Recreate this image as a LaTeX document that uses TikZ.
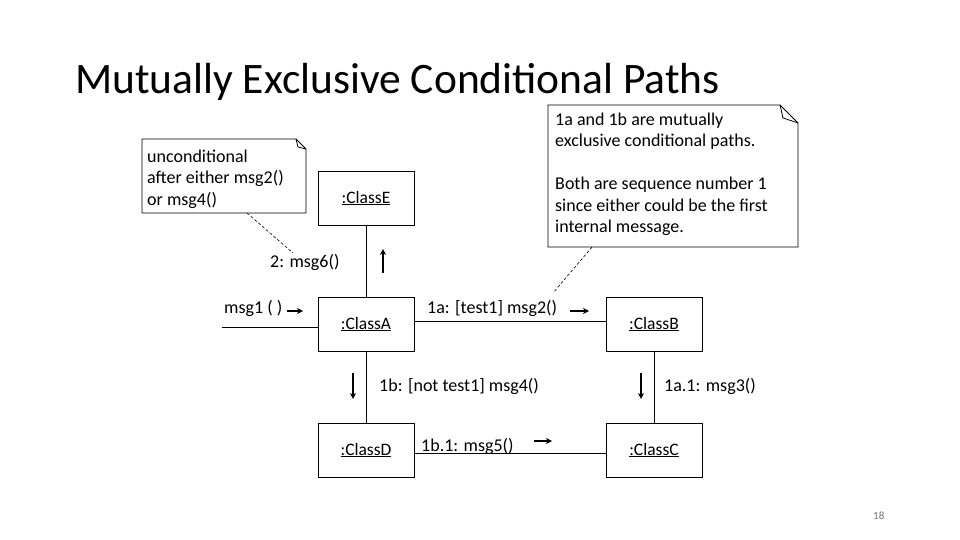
\documentclass[tikz,border=0pt]{standalone}
\usepackage{fontspec}
\setmainfont{Carlito}
\usetikzlibrary{arrows.meta}
\tikzset{
  x=1pt, y=-1pt,
  classbox/.style={draw, line width=0.8pt, minimum width=96pt, minimum height=54pt, inner sep=0pt, font=\fontsize{17.5}{21.5}\selectfont},
  lbl/.style={anchor=base west, inner sep=0pt, font=\fontsize{18}{21.5}\selectfont},
  notetext/.style={anchor=north west, inner sep=0pt, align=left, font=\fontsize{18}{21.5}\selectfont},
  conn/.style={line width=0.8pt},
  notebox/.style={line width=0.8pt},
  anchorline/.style={line width=0.6pt, dash pattern=on 3pt off 2pt},
  msgarrow/.style={line width=1.6pt, -{Stealth[length=6pt,width=6pt]}},
}
\begin{document}
\begin{tikzpicture}
\useasboundingbox (0,0) rectangle (960,540);
% title
\node[anchor=base west, inner sep=0pt, font=\fontsize{43.5}{50}\selectfont] (title) at (75,94) {Mutually Exclusive Conditional Paths};
% class boxes
\node[classbox] (E) at (366,198) {\underline{:ClassE}};
\node[classbox] (A) at (366,324) {\underline{:ClassA}};
\node[classbox] (B) at (654,324) {\underline{:ClassB}};
\node[classbox] (D) at (366,450) {\underline{:ClassD}};
\node[classbox] (C) at (654,450) {\underline{:ClassC}};
% connectors
\coordinate (m1start) at (222,327);
\draw[conn] (m1start) -- ([yshift=-3pt]A.west);
\draw[conn] (E.south) -- (A.north);
\draw[conn] ([yshift=3pt]A.east) -- ([yshift=3pt]B.west);
\draw[conn] (A.south) -- (D.north);
\draw[conn] (B.south) -- (C.north);
\draw[conn] ([yshift=-3pt]D.east) -- ([yshift=-3pt]C.west);
% note 1
\coordinate (n1a) at (142,139);
\coordinate (n1b) at (296,139);
\coordinate (n1c) at (306,149);
\coordinate (n1d) at (306,213);
\coordinate (n1e) at (142,213);
\coordinate (n1f) at (298,147);
\draw[notebox] (n1a) -- (n1b) -- (n1c) -- (n1d) -- (n1e) -- cycle;
\draw[notebox] (n1b) -- (n1f) -- (n1c);
\node[notetext] (note1) at (147,149.5) {unconditional\\after either msg2()\\or msg4()};
% note 2
\coordinate (n2a) at (548,105);
\coordinate (n2b) at (780,105);
\coordinate (n2c) at (798,123);
\coordinate (n2d) at (798,247);
\coordinate (n2e) at (548,247);
\coordinate (n2f) at (783,118);
\draw[notebox] (n2a) -- (n2b) -- (n2c) -- (n2d) -- (n2e) -- cycle;
\draw[notebox] (n2b) -- (n2f) -- (n2c);
\node[notetext] (note2) at (555,112.5) {1a and 1b are mutually\\exclusive conditional paths.\\[21.5pt]Both are sequence number 1\\since either could be the first\\internal message.};
% note anchors
\coordinate (n1anc) at (247,213);
\coordinate (n1end) at (293,253);
\draw[anchorline] (n1anc) -- (n1end);
\coordinate (n2anc) at (592,247);
\coordinate (n2end) at (553,293);
\draw[anchorline] (n2anc) -- (n2end);
% labels
\node[lbl] (l6) at (270,267) {2: msg6()};
\node[lbl] (l1) at (224,313) {msg1 ( )};
\node[lbl] (l2) at (427,313) {1a: [test1] msg2()};
\node[lbl] (l4) at (379,391) {1b: [not test1] msg4()};
\node[lbl] (l3) at (664,391) {1a.1: msg3()};
\node[lbl] (l5) at (421,451) {1b.1: msg5()};
\node[anchor=base west, inner sep=0pt, font=\fontsize{11}{13}\selectfont, text=black!55] (pg) at (873,519) {18};
% message arrows
\coordinate (a6s) at (383,273); \coordinate (a6e) at (383,249);
\draw[msgarrow] (a6s) -- (a6e);
\coordinate (a1s) at (287,311); \coordinate (a1e) at (303,311);
\draw[msgarrow] (a1s) -- (a1e);
\coordinate (a2s) at (570,311); \coordinate (a2e) at (589,311);
\draw[msgarrow] (a2s) -- (a2e);
\coordinate (a4s) at (353,373); \coordinate (a4e) at (353,399);
\draw[msgarrow] (a4s) -- (a4e);
\coordinate (a3s) at (641,373); \coordinate (a3e) at (641,399);
\draw[msgarrow] (a3s) -- (a3e);
\coordinate (a5s) at (534,441); \coordinate (a5e) at (552,441);
\draw[msgarrow] (a5s) -- (a5e);
\end{tikzpicture}
\end{document}
